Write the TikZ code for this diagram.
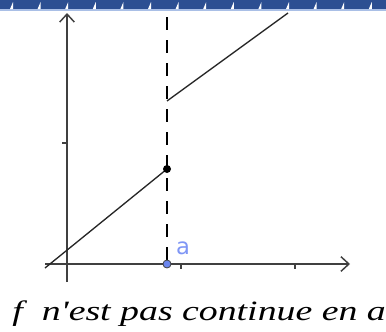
\documentclass[tikz,border=0pt]{standalone}
\usepackage{fontspec}
\setmainfont{Liberation Serif}
\newfontfamily\legende{Liberation Serif}
\newfontfamily\etiq{DejaVu Sans}
\usetikzlibrary{arrows.meta}

\definecolor{bandeau}{HTML}{2C4F92}
\definecolor{bandeauclair}{HTML}{A9BFE6}
\definecolor{axe}{HTML}{404040}
\definecolor{pointa}{HTML}{6B86EE}
\definecolor{lettrea}{HTML}{7F96F5}

\begin{document}
\begin{tikzpicture}[x=0.75pt,y=-0.75pt]

    % cadre de l'image
    \useasboundingbox (0,0) rectangle (386,332);

    % paramètres
    \pgfmathsetmacro{\xa}{167}
    \pgfmathsetmacro{\yO}{264}
    \pgfmathsetmacro{\xO}{67}

    % bandeau du haut
    \fill [bandeau] (0,0) rectangle (386,9);
    \fill [bandeauclair] (0,9) rectangle (386,10.5);
    \foreach \k in {0,...,14} {
        \fill [white] ({13+27.6*\k-3},9) -- ({13+27.6*\k},9) -- ({13+27.6*\k},2) -- cycle;
    }

    % points
    \coordinate (Xg) at (45,\yO);
    \coordinate (Xd) at (350,\yO);
    \coordinate (Yb) at (\xO,282);
    \coordinate (Yh) at (\xO,13);
    \coordinate (A) at (\xa,\yO);
    \coordinate (T) at (\xa,17);
    \coordinate (P) at (\xa,169);
    \coordinate (Q) at (\xa,101);
    \coordinate (G) at (45,268);
    \coordinate (H) at (288,13);

    % axes et graduations
    \draw [axe, line width=1.1pt, -{Straight Barb[length=6pt,width=11pt]}] (Xg) -- (Xd);
    \draw [axe, line width=1.1pt, -{Straight Barb[length=6pt,width=11pt]}] (Yb) -- (Yh);
    \draw [axe, line width=0.9pt] (181,\yO) -- (181,\yO+5);
    \draw [axe, line width=0.9pt] (295,\yO) -- (295,\yO+5);
    \draw [axe, line width=0.9pt] (\xO,143) -- (\xO-5,143);

    % droite x = a en pointillés
    \draw [line width=1pt, dash pattern=on 9.75pt off 7.5pt] (T) -- (A);

    % les deux morceaux de f
    \draw [black!85, line width=1pt] (G) -- (P);
    \draw [black!85, line width=1pt] (Q) -- (H);

    % extrémités
    \fill (P) circle (4);
    \filldraw [fill=pointa, draw=axe, line width=0.6pt] (A) circle (4);
    \node (lettre) at (183,248) [lettrea, font=\etiq\fontsize{17}{20}\selectfont] {a};

    % légende
    \node (titre) at (12,320) [anchor=base west, inner sep=0pt, xscale=1.35,
        font=\legende\fontsize{21}{25}\selectfont\itshape] {f\ \ n'est pas continue en a};

\end{tikzpicture}
\end{document}
